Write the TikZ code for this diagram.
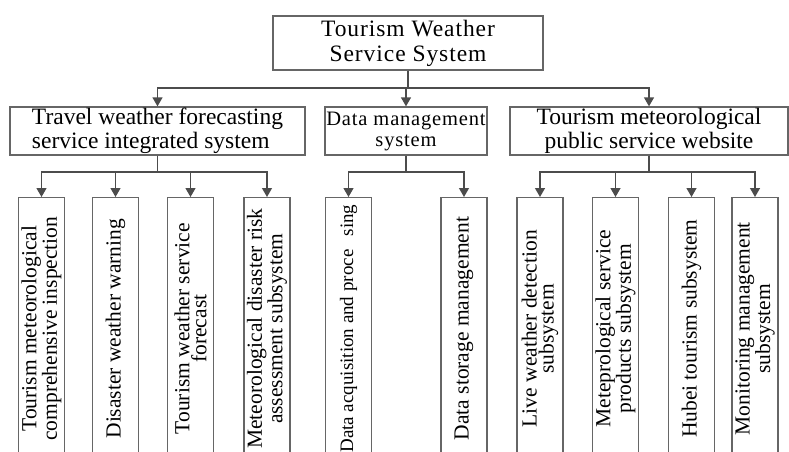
\documentclass[tikz,border=0pt]{standalone}
\usepackage{fontspec}
\setmainfont{Liberation Serif}
\usetikzlibrary{arrows.meta}
\tikzset{
	box/.style={draw=black!60, line width=1.3pt, fill=white, inner sep=0pt, align=center},
	leaf/.style={box, rotate=90, anchor=east, minimum width=262pt, minimum height=46pt},
	link/.style={draw=black!70, line width=1.3pt},
	arr/.style={link, -{Triangle[width=10pt,length=9pt]}}
}
\begin{document}
\begin{tikzpicture}[x=1pt,y=-1pt]
		\clip (0,0) rectangle (789,452);
		\def\ybusa{88}  % bus below the root
		\def\ybusb{172} % bus below the subsystems
		\def\yleaf{197} % top of the leaf boxes
		
		\coordinate (busa) at (0,\ybusa);
		\coordinate (busb) at (0,\ybusb);
		
		% root
		\node[box, minimum width=270pt, minimum height=54pt, font=\fontsize{23.5}{25}\selectfont\addfontfeature{LetterSpace=4}] (root) at (408,43) {Tourism Weather\\Service System};
		
		% second level
		\node[box, minimum width=295pt, minimum height=48pt, font=\fontsize{23.5}{23.5}\selectfont, align=left] (tw) at (157.5,131) {Travel weather forecasting\\service integrated system};
		\node[box, minimum width=162pt, minimum height=48pt, font=\fontsize{20.5}{21}\selectfont\addfontfeature{LetterSpace=4}] (dm) at (406,131) {Data management\\system};
		\node[box, minimum width=278pt, minimum height=48pt, font=\fontsize{23.5}{23.5}\selectfont] (tm) at (649,131) {Tourism meteorological\\public service website};
		
		\foreach \id in {tw,dm,tm}
			\draw[arr] (root.south) -- (root.south |- busa) -| (\id.north);
		
		% leaves
		\foreach \id/\x/\fs/\txt in {
				l1/41.5/21.5/{Tourism meteorological\\comprehensive inspection},
				l2/115.5/21.5/{Disaster weather warning},
				l3/190.5/21.5/{Tourism weather service\\forecast},
				l4/267/21.5/{Meteorological disaster risk\\assessment subsystem},
				l5/348.5/19/{Data acquisition and proce\hspace{0.7em}sing},
				l6/464/21.5/{Data storage management},
				l7/540/21.5/{Live weather detection\\subsystem},
				l8/615.5/21.5/{Meteprological service\\products subsystem},
				l9/691.5/21.5/{Hubei tourism subsystem},
				l10/755/21.5/{Monitoring management\\subsystem}} {
			\node[leaf, font=\fontsize{\fs}{17}\selectfont] (\id) at (\x,\yleaf) {\txt};
		}
		
		\foreach \k in {1,...,4}
			\draw[arr] (tw.south) -- (tw.south |- busb) -| (l\k.east);
		\foreach \k in {5,6}
			\draw[arr] (dm.south) -- (dm.south |- busb) -| (l\k.east);
		\foreach \k in {7,...,10}
			\draw[arr] (tm.south) -- (tm.south |- busb) -| (l\k.east);
\end{tikzpicture}
\end{document}
